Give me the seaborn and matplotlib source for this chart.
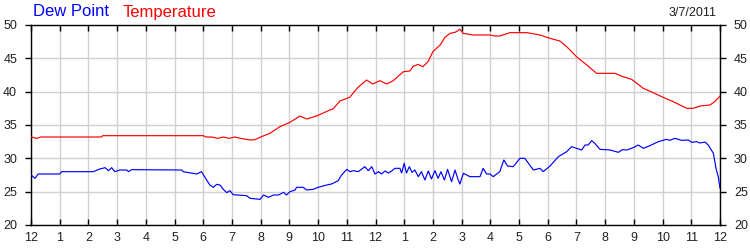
import matplotlib
matplotlib.use("Agg")
import matplotlib.pyplot as plt
import seaborn as sns
import pandas as pd

# ---- data (hours after midnight) ----
temp_hours = [0, 0.2, 0.35, 2.45, 2.5, 6.0, 6.1, 6.3, 6.5, 6.7,
              6.9, 7.1, 7.3, 7.56, 7.63, 7.8, 8.0, 8.32, 8.67, 9.02,
              9.37, 9.6, 9.95, 10.41, 10.52, 10.76, 11.1, 11.39, 11.69, 11.9,
              12.15, 12.39, 12.62, 12.97, 13.2, 13.3, 13.48, 13.65, 13.83, 14.0,
              14.25, 14.42, 14.6, 14.77, 14.94, 15.05, 15.4, 15.99, 16.16, 16.33,
              16.68, 17.27, 17.73, 18.08, 18.42, 18.66, 19.0, 19.36, 19.7, 20.34,
              20.62, 20.92, 21.33, 21.67, 22.02, 22.37, 22.84, 23.07, 23.3, 23.65,
              23.82, 24.0]
temperature = [33.2, 33.0, 33.2, 33.2, 33.4, 33.4, 33.2, 33.2, 33.0, 33.2,
               33.0, 33.2, 33.0, 32.8, 32.75, 32.8, 33.2, 33.75, 34.75, 35.4,
               36.35, 35.9, 36.35, 37.25, 37.4, 38.6, 39.15, 40.65, 41.75, 41.15,
               41.65, 41.15, 41.65, 43.0, 43.1, 43.75, 44.1, 43.75, 44.5, 46.0,
               47.0, 48.15, 48.75, 48.9, 49.35, 48.75, 48.5, 48.5, 48.35, 48.35,
               48.85, 48.85, 48.5, 48.0, 47.6, 46.75, 45.25, 44.0, 42.75, 42.75,
               42.25, 41.85, 40.5, 39.85, 39.15, 38.5, 37.5, 37.5, 37.85, 38.0,
               38.5, 39.35]

dew_hours = [0, 0.14, 0.25, 1.0, 1.07, 2.17, 2.4, 2.58, 2.7, 2.81,
             2.92, 3.1, 3.33, 3.4, 3.5, 5.25, 5.3, 5.77, 5.94, 6.06,
             6.23, 6.35, 6.47, 6.58, 6.7, 6.82, 6.93, 7.04, 7.51, 7.63,
             7.98, 8.1, 8.27, 8.45, 8.62, 8.8, 8.9, 9.02, 9.2, 9.25,
             9.48, 9.6, 9.83, 10.0, 10.3, 10.47, 10.7, 10.82, 11.0, 11.11,
             11.23, 11.4, 11.63, 11.75, 11.87, 11.98, 12.1, 12.21, 12.33, 12.45,
             12.56, 12.68, 12.85, 12.91, 13.0, 13.08, 13.18, 13.27, 13.37, 13.49,
             13.6, 13.72, 13.84, 13.95, 14.07, 14.18, 14.28, 14.4, 14.51, 14.65,
             14.77, 14.87, 14.94, 15.06, 15.29, 15.64, 15.75, 15.87, 15.99, 16.1,
             16.28, 16.33, 16.47, 16.6, 16.8, 17.03, 17.2, 17.5, 17.73, 17.84,
             18.08, 18.37, 18.66, 18.83, 19.18, 19.3, 19.41, 19.53, 19.64, 19.82,
             20.17, 20.46, 20.6, 20.75, 20.98, 21.15, 21.33, 21.56, 21.85, 22.14,
             22.25, 22.43, 22.66, 22.9, 23.01, 23.19, 23.3, 23.48, 23.59, 23.77,
             23.86, 23.94, 24.0]
dew_point = [27.5, 27.0, 27.65, 27.65, 28.0, 28.0, 28.4, 28.6, 28.15, 28.6,
             28.0, 28.25, 28.25, 28.0, 28.3, 28.25, 28.0, 27.65, 28.0, 27.15,
             26.0, 25.65, 26.1, 26.0, 25.35, 24.85, 25.15, 24.55, 24.4, 24.0,
             23.85, 24.5, 24.15, 24.5, 24.5, 24.9, 24.5, 25.0, 25.25, 25.65,
             25.65, 25.25, 25.35, 25.65, 26.0, 26.15, 26.65, 27.5, 28.35, 28.0,
             28.15, 28.0, 28.75, 28.15, 28.75, 27.65, 28.0, 27.65, 28.1, 27.8,
             28.1, 28.5, 28.5, 27.8, 29.25, 27.8, 28.75, 27.9, 28.25, 27.25,
             28.0, 26.75, 28.1, 26.9, 28.15, 27.0, 28.0, 26.75, 28.35, 26.5,
             28.25, 26.9, 26.15, 27.75, 27.25, 27.25, 28.5, 27.65, 27.65, 27.25,
             27.85, 28.0, 29.75, 28.85, 28.75, 30.0, 30.0, 28.25, 28.5, 28.0,
             28.85, 30.25, 31.0, 31.75, 31.25, 32.0, 32.0, 32.65, 32.25, 31.35,
             31.25, 30.9, 31.3, 31.25, 31.6, 32.0, 31.5, 31.9, 32.5, 32.85,
             32.7, 33.0, 32.7, 32.75, 32.4, 32.5, 32.3, 32.45, 32.0, 30.75,
             28.5, 27.25, 25.5]

x_tick_labels = ["12", "1", "2", "3", "4", "5", "6", "7", "8", "9", "10", "11",
                 "12", "1", "2", "3", "4", "5", "6", "7", "8", "9", "10", "11", "12"]
y_ticks = [20, 25, 30, 35, 40, 45, 50]
date_label = "3/7/2011"

# ---- style ----
sns.set_style("white")
plt.rcParams["font.family"] = ["Liberation Sans", "DejaVu Sans"]

fig = plt.figure(figsize=(7.5, 2.5), dpi=100)
ax = fig.add_axes([31 / 750, 25 / 250, 689 / 750, 200 / 250])

temp_df = pd.DataFrame({"hour": temp_hours, "value": temperature})
dew_df = pd.DataFrame({"hour": dew_hours, "value": dew_point})

sns.lineplot(data=dew_df, x="hour", y="value", ax=ax, color="#0000ff",
             linewidth=0.85, zorder=3)
sns.lineplot(data=temp_df, x="hour", y="value", ax=ax, color="#ff0000",
             linewidth=0.85, zorder=3)

ax.set_xlim(0, 24)
ax.set_ylim(20, 50)
ax.set_xticks(range(25))
ax.set_xticklabels(x_tick_labels)
ax.set_yticks(y_ticks)
ax.set_yticklabels([str(v) for v in y_ticks])
ax.set_xlabel("")
ax.set_ylabel("")

ax.grid(True, color="#d0d0d0", linewidth=1.0, zorder=0)
ax.set_axisbelow(True)
for s in ax.spines.values():
    s.set_color("black")
    s.set_linewidth(1.0)
    s.set_visible(True)

ax.tick_params(axis="x", which="both", direction="in", top=True, bottom=True,
               length=4, width=1, color="black", labelsize=9, pad=5,
               labelcolor="#202020")
ax.tick_params(axis="y", which="both", left=True, right=True, labelleft=True,
               labelright=True, direction="out", length=0, width=1,
               color="black", labelsize=9, pad=6, labelcolor="#202020")
ax.tick_params(axis="y", which="both", right=True, length=4)

fig.text(33 / 750, 1 - 12 / 250, "Dew Point", color="#0000ff", fontsize=12,
         va="center", ha="left")
fig.text(123 / 750, 1 - 12 / 250, "Temperature", color="#ff0000", fontsize=12,
         va="center", ha="left")
fig.text(717 / 750, 1 - 13 / 250, date_label, color="#202020", fontsize=9,
         va="center", ha="right")

fig.savefig("out.png", dpi=100)
